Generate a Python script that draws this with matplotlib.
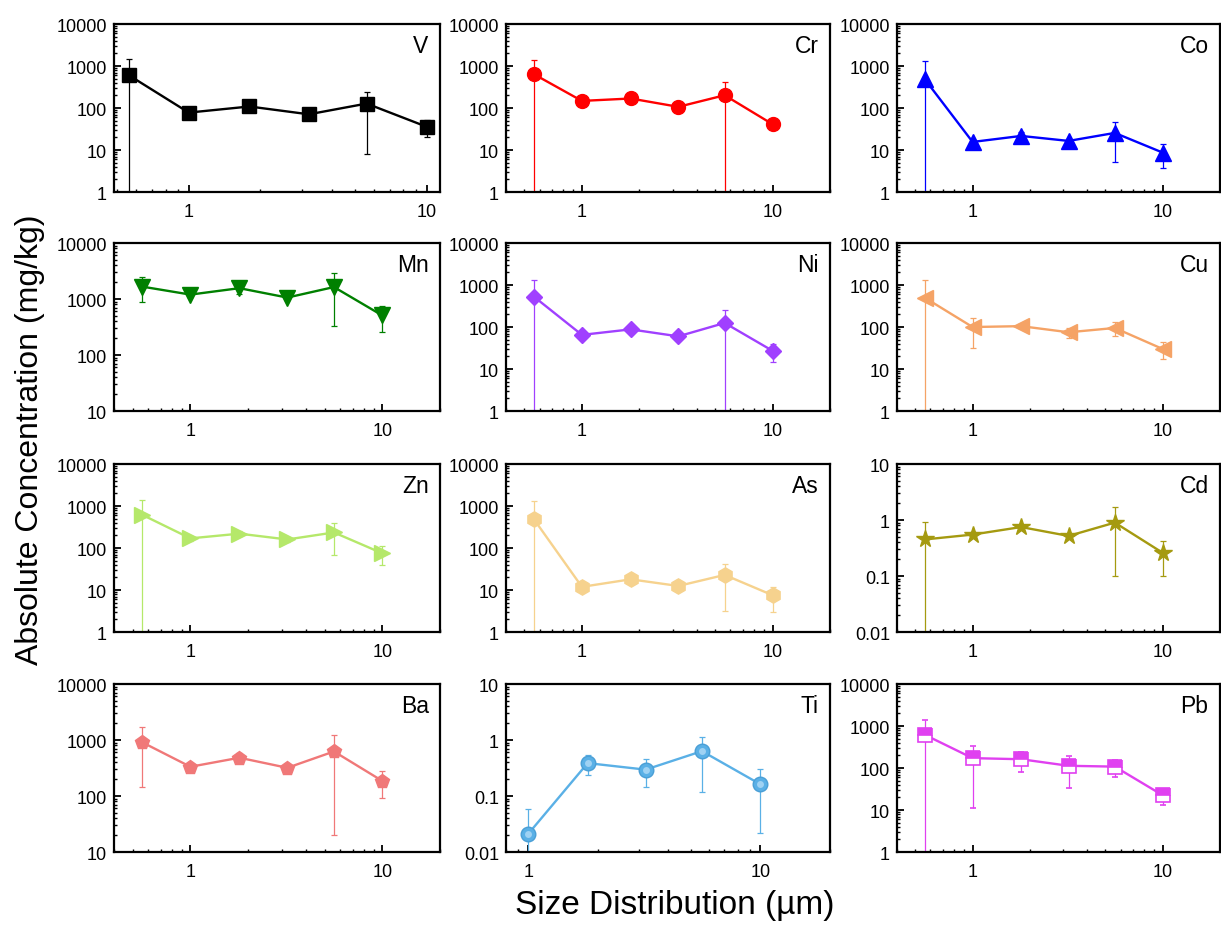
import numpy as np
import matplotlib
matplotlib.use("Agg")
import matplotlib.pyplot as plt
from matplotlib import ticker

plt.rcParams['font.family'] = ['Liberation Sans', 'DejaVu Sans']

# particle size stages (um)
size = [0.56, 1.0, 1.8, 3.2, 5.6, 10.0]
ti_size = [1.0, 1.8, 3.2, 5.6, 10.0]

# mean and SD per element (mg/kg)
V_mean = [605, 78, 109, 71, 128, 36]
V_sd = [857, 12, 18, 10, 120, 16]
Cr_mean = [641, 148, 169, 107, 202, 41]
Cr_sd = [770, 20, 25, 12, 227, 5]
Co_mean = [487, 15.6, 21.7, 16.5, 25.6, 8.7]
Co_sd = [800, 2, 5, 2, 20.4, 5]
Mn_mean = [1668, 1200, 1563, 1062, 1637, 509]
Mn_sd = [790, 100, 350, 100, 1307, 255]
Ni_mean = [530, 65, 88, 60, 125, 27]
Ni_sd = [800, 8, 12, 8, 128, 12]
Cu_mean = [500, 100, 105, 75, 95, 30]
Cu_sd = [800, 68, 10, 20, 35, 13]
Zn_mean = [620, 170, 220, 160, 235, 75]
Zn_sd = [800, 20, 30, 20, 165, 35]
As_mean = [487, 11.9, 18, 12.5, 22.9, 7.5]
As_sd = [847, 2, 3, 2, 19.8, 4.5]
Cd_mean = [0.45, 0.55, 0.75, 0.52, 0.9, 0.26]
Cd_sd = [0.46, 0.05, 0.08, 0.05, 0.8, 0.16]
Ba_mean = [914, 333, 483, 319, 625, 186]
Ba_sd = [772, 40, 100, 30, 605, 93]
Ti_mean = [0.0213, 0.387, 0.296, 0.633, 0.162]
Ti_sd = [0.037, 0.15, 0.154, 0.515, 0.14]
Pb_mean = [620, 172, 162, 113, 108, 22.5]
Pb_sd = [767, 161, 81, 79, 46, 9.5]

panels = [
    ("V", size, V_mean, V_sd, "black", "s", (1, 1e4), (0.485, 11.4)),
    ("Cr", size, Cr_mean, Cr_sd, "#ff0000", "o", (1, 1e4), (0.4, 20)),
    ("Co", size, Co_mean, Co_sd, "#0000ff", "^", (1, 1e4), (0.4, 20)),
    ("Mn", size, Mn_mean, Mn_sd, "#008000", "v", (10, 1e4), (0.4, 20)),
    ("Ni", size, Ni_mean, Ni_sd, "#a040ff", "D", (1, 1e4), (0.4, 20)),
    ("Cu", size, Cu_mean, Cu_sd, "#f5a366", "<", (1, 1e4), (0.4, 20)),
    ("Zn", size, Zn_mean, Zn_sd, "#b5e86a", ">", (1, 1e4), (0.4, 20)),
    ("As", size, As_mean, As_sd, "#f6d28e", "h", (1, 1e4), (0.4, 20)),
    ("Cd", size, Cd_mean, Cd_sd, "#a59a10", "*", (0.01, 10), (0.4, 20)),
    ("Ba", size, Ba_mean, Ba_sd, "#f07878", "p", (10, 1e4), (0.4, 20)),
    ("Ti", ti_size, Ti_mean, Ti_sd, "#5ab0e6", "o", (0.01, 10), (0.8, 20)),
    ("Pb", size, Pb_mean, Pb_sd, "#e040f0", "s", (1, 1e4), (0.4, 20)),
]

fig = plt.figure(figsize=(12.21, 9.29), dpi=100)

lefts = [0.0934, 0.4144, 0.7346]
widths = [0.267, 0.2655, 0.2645]
bottoms = [0.7922, 0.5565, 0.3186, 0.0818]
height = 0.1808

fmt = ticker.FuncFormatter(lambda v, p: '%g' % v)

for i, (name, x, m, sd, col, mk, ylim, xlim) in enumerate(panels):
    r, c = divmod(i, 3)
    ax = fig.add_axes([lefts[c], bottoms[r], widths[c], height])
    ax.set_xscale('log')
    ax.set_yscale('log')
    kw = dict(marker=mk, color=col, ms=10, lw=1.7, elinewidth=0.9,
              capsize=2, capthick=0.9, mec=col)
    if mk in ("^", "v", "<", ">"):
        kw['ms'] = 11
    if mk == "*":
        kw['ms'] = 13
    if mk == "D":
        kw['ms'] = 8.5
    if mk == "h":
        kw['ms'] = 11
    if name == "Pb":
        kw.update(fillstyle='top', markerfacecoloralt='white', mew=1.2, ms=10)
    if name == "Ti":
        kw.update(mec='#4a9fd6', ms=10.5)
    ax.errorbar(x, m, yerr=sd, **kw)
    if name == "Ti":
        # soft highlight to mimic the ball symbol
        ax.plot(x, m, 'o', ms=5, color='#9fd2f3', mec='none', zorder=5)
    ax.set_xlim(*xlim)
    ax.set_ylim(*ylim)
    ax.xaxis.set_major_locator(ticker.LogLocator(base=10, numticks=10))
    ax.xaxis.set_minor_locator(ticker.LogLocator(base=10, subs=np.arange(2, 10), numticks=20))
    ax.yaxis.set_major_locator(ticker.LogLocator(base=10, numticks=10))
    ax.yaxis.set_minor_locator(ticker.LogLocator(base=10, subs=np.arange(2, 10), numticks=20))
    ax.xaxis.set_major_formatter(fmt)
    ax.yaxis.set_major_formatter(fmt)
    ax.xaxis.set_minor_formatter(ticker.NullFormatter())
    ax.yaxis.set_minor_formatter(ticker.NullFormatter())
    ax.tick_params(which='major', direction='in', length=5, width=1.3,
                   labelsize=13, top=False, right=False)
    ax.tick_params(axis='x', which='major', pad=8)
    ax.tick_params(axis='y', which='major', pad=5)
    ax.tick_params(which='minor', direction='in', length=2.5, width=1.0,
                   top=False, right=False)
    for s in ax.spines.values():
        s.set_linewidth(1.6)
    ax.text(0.965, 0.87, name, transform=ax.transAxes, ha='right', va='center',
            fontsize=16.5)

fig.text(0.0246, 0.527, "Absolute Concentration (mg/kg)", rotation=90,
         ha='center', va='center', fontsize=23)
fig.text(0.553, 0.025, "Size Distribution (\u00b5m)", ha='center', va='center',
         fontsize=24)

fig.savefig("out.png", dpi=100)
